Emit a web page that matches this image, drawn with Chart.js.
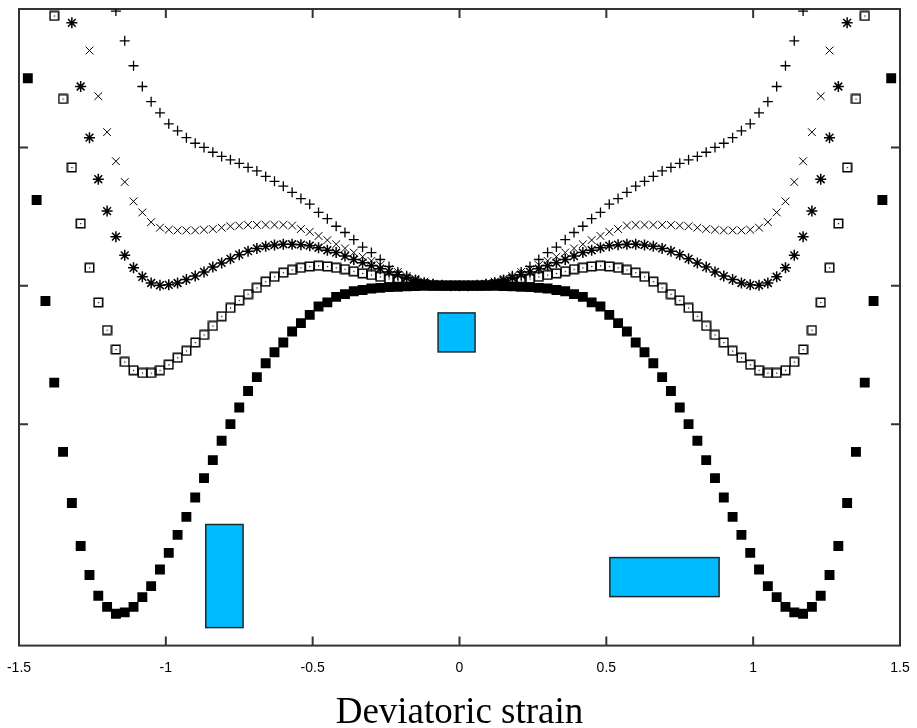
<!DOCTYPE html>
<html>
<head>
<meta charset="utf-8">
<script src="https://cdn.jsdelivr.net/npm/chart.js@4.4.0/dist/chart.umd.min.js"></script>
<style>
  html, body { margin: 0; padding: 0; background: #fff; }
</style>
</head>
<body>
<canvas id="chart" width="917" height="728"></canvas>
<script>
// strain values (x) shared by every series
const strainPts = [-1.5,-1.47,-1.44,-1.41,-1.38,-1.35,-1.32,-1.29,-1.26,-1.23,-1.2,-1.17,-1.14,-1.11,-1.08,-1.05,-1.02,-0.99,-0.96,-0.93,-0.9,-0.87,-0.84,-0.81,-0.78,-0.75,-0.72,-0.69,-0.66,-0.63,-0.6,-0.57,-0.54,-0.51,-0.48,-0.45,-0.42,-0.39,-0.36,-0.33,-0.3,-0.27,-0.24,-0.21,-0.18,-0.15,-0.12,-0.09,-0.06,-0.03,0,0.03,0.06,0.09,0.12,0.15,0.18,0.21,0.24,0.27,0.3,0.33,0.36,0.39,0.42,0.45,0.48,0.51,0.54,0.57,0.6,0.63,0.66,0.69,0.72,0.75,0.78,0.81,0.84,0.87,0.9,0.93,0.96,0.99,1.02,1.05,1.08,1.11,1.14,1.17,1.2,1.23,1.26,1.29,1.32,1.35,1.38,1.41,1.44,1.47,1.5];

// free energy curves, lowest to highest temperature
const energyT1 = [null,1.50,0.62,-0.11,-0.70,-1.20,-1.57,-1.88,-2.09,-2.24,-2.32,-2.37,-2.36,-2.32,-2.25,-2.17,-2.05,-1.93,-1.80,-1.67,-1.53,-1.39,-1.26,-1.12,-1.00,-0.88,-0.76,-0.66,-0.56,-0.48,-0.41,-0.33,-0.27,-0.21,-0.15,-0.12,-0.08,-0.06,-0.04,-0.03,-0.02,-0.015,-0.01,-0.007,-0.004,-0.002,-0.001,0,0,0,
  0,
  0,0,0,-0.001,-0.002,-0.004,-0.007,-0.01,-0.015,-0.02,-0.03,-0.04,-0.06,-0.08,-0.12,-0.15,-0.21,-0.27,-0.33,-0.41,-0.48,-0.56,-0.66,-0.76,-0.88,-1.00,-1.12,-1.26,-1.39,-1.53,-1.67,-1.80,-1.93,-2.05,-2.17,-2.25,-2.32,-2.36,-2.37,-2.32,-2.24,-2.09,-1.88,-1.57,-1.20,-0.70,-0.11,0.62,1.50,null];

const energyT2 = [null,null,null,null,1.95,1.35,0.855,0.45,0.13,-0.12,-0.32,-0.46,-0.55,-0.61,-0.63,-0.63,-0.61,-0.57,-0.52,-0.47,-0.41,-0.355,-0.29,-0.22,-0.16,-0.105,-0.06,-0.015,0.03,0.065,0.095,0.115,0.13,0.14,0.145,0.14,0.13,0.12,0.105,0.09,0.078,0.065,0.05,0.037,0.025,0.015,0.008,0.004,0.002,0,
  0,
  0,0.002,0.004,0.008,0.015,0.025,0.037,0.05,0.065,0.078,0.09,0.105,0.12,0.13,0.14,0.145,0.14,0.13,0.115,0.095,0.065,0.03,-0.015,-0.06,-0.105,-0.16,-0.22,-0.29,-0.355,-0.41,-0.47,-0.52,-0.57,-0.61,-0.63,-0.63,-0.61,-0.55,-0.46,-0.32,-0.12,0.13,0.45,0.855,1.35,1.95,null,null,null,null];

const energyT3 = [null,null,null,null,null,null,1.90,1.44,1.07,0.77,0.54,0.355,0.22,0.13,0.065,0.02,0.004,0.007,0.02,0.045,0.07,0.10,0.135,0.165,0.195,0.225,0.25,0.27,0.285,0.295,0.30,0.30,0.297,0.29,0.275,0.257,0.24,0.215,0.19,0.167,0.145,0.123,0.10,0.08,0.058,0.04,0.022,0.011,0.004,0.001,
  0,
  0.001,0.004,0.011,0.022,0.04,0.058,0.08,0.10,0.123,0.145,0.167,0.19,0.215,0.24,0.257,0.275,0.29,0.297,0.30,0.30,0.295,0.285,0.27,0.25,0.225,0.195,0.165,0.135,0.10,0.07,0.045,0.02,0.007,0.004,0.02,0.065,0.13,0.22,0.355,0.54,0.77,1.07,1.44,1.90,null,null,null,null,null,null];

const energyT4 = [null,null,null,null,null,null,null,null,1.70,1.37,1.11,0.90,0.75,0.61,0.53,0.46,0.42,0.405,0.40,0.40,0.40,0.405,0.41,0.42,0.43,0.435,0.44,0.44,0.44,0.44,0.44,0.435,0.41,0.39,0.36,0.33,0.30,0.27,0.24,0.21,0.18,0.15,0.12,0.10,0.07,0.05,0.03,0.015,0.004,0.001,
  0,
  0.001,0.004,0.015,0.03,0.05,0.07,0.10,0.12,0.15,0.18,0.21,0.24,0.27,0.30,0.33,0.36,0.39,0.41,0.435,0.44,0.44,0.44,0.44,0.44,0.435,0.43,0.42,0.41,0.405,0.40,0.40,0.40,0.405,0.42,0.46,0.53,0.61,0.75,0.90,1.11,1.37,1.70,null,null,null,null,null,null,null,null];

const energyT5 = [null,null,null,null,null,null,null,null,null,null,null,1.985,1.77,1.59,1.44,1.33,1.25,1.17,1.12,1.07,1.03,1.00,0.965,0.935,0.91,0.885,0.855,0.83,0.79,0.755,0.72,0.675,0.63,0.59,0.53,0.485,0.43,0.385,0.333,0.28,0.24,0.19,0.14,0.10,0.072,0.043,0.022,0.011,0.004,0.001,
  0,
  0.001,0.004,0.011,0.022,0.043,0.072,0.10,0.14,0.19,0.24,0.28,0.333,0.385,0.43,0.485,0.53,0.59,0.63,0.675,0.72,0.755,0.79,0.83,0.855,0.885,0.91,0.935,0.965,1.00,1.03,1.07,1.12,1.17,1.25,1.33,1.44,1.59,1.77,1.985,null,null,null,null,null,null,null,null,null,null,null];

// unit cell sketches (data coords)
const cellLeft   = [-0.864, -0.073, 0.512];
const cellRight  = [-0.737,  0.053, 0.884];
const cellBottom = [-2.47,  -0.478, -2.246];
const cellTop    = [-1.725, -0.196, -1.964];

const xTickValues = [-1.5, -1, -0.5, 0, 0.5, 1, 1.5];
const xTickLabels = ['-1.5', '-1', '-0.5', '0', '0.5', '1', '1.5'];
const yTickValues = [-1, 0, 1];

function toPoints(ys) {
  return strainPts.map((x, i) => ({ x: x, y: ys[i] })).filter(p => p.y !== null);
}

// gnuplot style open square with a centre dot
function openSquare() {
  const c = document.createElement('canvas');
  c.width = 11; c.height = 11;
  const g = c.getContext('2d');
  g.strokeStyle = '#000';
  g.lineWidth = 1.5;
  g.strokeRect(1.25, 1.25, 8.5, 8.5);
  g.fillStyle = '#000';
  g.fillRect(5, 5, 1.2, 1.2);
  return c;
}

const boxPlugin = {
  id: 'box',
  beforeDatasetsDraw(chart) {
    const { ctx, chartArea: a, scales: { x, y } } = chart;
    ctx.save();
    // cells
    for (let i = 0; i < cellLeft.length; i++) {
      const l = x.getPixelForValue(cellLeft[i]);
      const r = x.getPixelForValue(cellRight[i]);
      const t = y.getPixelForValue(cellTop[i]);
      const b = y.getPixelForValue(cellBottom[i]);
      ctx.fillStyle = '#00bbff';
      ctx.fillRect(l, t, r - l, b - t);
      ctx.strokeStyle = '#1e2a30';
      ctx.lineWidth = 1.5;
      ctx.strokeRect(l, t, r - l, b - t);
    }
    // frame
    ctx.strokeStyle = '#333';
    ctx.lineWidth = 2;
    ctx.strokeRect(a.left, a.top, a.right - a.left, a.bottom - a.top);
    // inward ticks
    ctx.beginPath();
    xTickValues.forEach(v => {
      const px = x.getPixelForValue(v);
      ctx.moveTo(px, a.bottom); ctx.lineTo(px, a.bottom - 9);
      ctx.moveTo(px, a.top); ctx.lineTo(px, a.top + 9);
    });
    yTickValues.forEach(v => {
      const py = y.getPixelForValue(v);
      ctx.moveTo(a.left, py); ctx.lineTo(a.left + 9, py);
      ctx.moveTo(a.right, py); ctx.lineTo(a.right - 9, py);
    });
    ctx.stroke();
    ctx.restore();
  }
};

const common = { showLine: false, borderColor: '#000', backgroundColor: '#000' };

new Chart(document.getElementById('chart'), {
  type: 'scatter',
  data: {
    datasets: [
      { ...common, data: toPoints(energyT1), pointStyle: 'rect', pointRadius: 7, pointHoverRadius: 7, pointBorderWidth: 0 },
      { ...common, data: toPoints(energyT2), pointStyle: openSquare(), pointRadius: 5, pointHoverRadius: 5 },
      { ...common, data: toPoints(energyT3), pointStyle: 'star', pointRadius: 5.5, pointHoverRadius: 5.5, pointBorderWidth: 1.5 },
      { ...common, data: toPoints(energyT4), pointStyle: 'crossRot', pointRadius: 5.5, pointHoverRadius: 5.5, pointBorderWidth: 1 },
      { ...common, data: toPoints(energyT5), pointStyle: 'cross', pointRadius: 5, pointHoverRadius: 5, pointBorderWidth: 1.3 }
    ]
  },
  options: {
    responsive: false,
    animation: false,
    layout: { padding: { left: 19, right: 17, top: 9, bottom: 0 } },
    plugins: { legend: { display: false }, tooltip: { enabled: false } },
    scales: {
      x: {
        type: 'linear',
        min: -1.5,
        max: 1.5,
        afterBuildTicks: s => { s.ticks = xTickValues.map(v => ({ value: v })); },
        afterFit: s => { s.paddingLeft = 0; s.paddingRight = 0; },
        grid: { display: false, drawTicks: false },
        border: { display: false },
        ticks: {
          padding: 14,
          color: '#000',
          font: { family: 'Liberation Sans', size: 14 },
          maxRotation: 0,
          callback: (v, i) => xTickLabels[i]
        },
        title: {
          display: true,
          text: 'Deviatoric strain',
          color: '#000',
          font: { family: 'Liberation Serif', size: 37, lineHeight: 0.8 },
          padding: { top: 8, bottom: 0 }
        }
      },
      y: {
        display: false,
        min: -2.6,
        max: 2.0
      }
    }
  },
  plugins: [boxPlugin]
});
</script>
</body>
</html>
